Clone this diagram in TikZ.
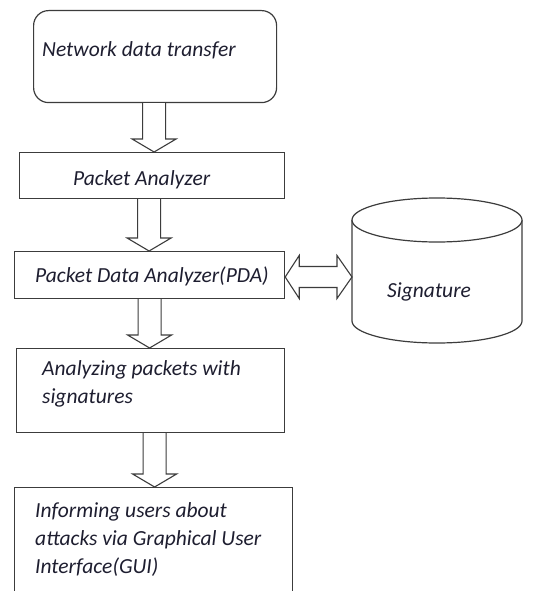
\documentclass[tikz,border=0pt]{standalone}
\usepackage{fontspec}
\setmainfont{Carlito}
\usetikzlibrary{calc}
\definecolor{ln}{HTML}{3C3C3C}
\definecolor{tx}{HTML}{1E1E30}
\newcommand\downblk[3]{%
  \draw[blk] let \p1=(#1.south), \p2=(#2.north) in
    (\x1+#3-11.5pt,\y1) -- (\x1+#3-11.5pt,\y2+13pt) -- (\x1+#3-22pt,\y2+13pt)
    -- (\x1+#3,\y2) -- (\x1+#3+22pt,\y2+13pt) -- (\x1+#3+11.5pt,\y2+13pt)
    -- (\x1+#3+11.5pt,\y1);}
\begin{document}
\begin{tikzpicture}[x=1pt,y=-1pt,
  box/.style={draw=ln, line width=1.2pt, fill=white, anchor=north west, inner sep=0pt},
  txt/.style={font=\fontsize{21.5}{28}\selectfont\itshape, text=tx, inner sep=0pt, anchor=base west, align=left},
  blk/.style={draw=ln, line width=1.1pt, fill=white, line join=miter}]
\useasboundingbox (0,0) rectangle (538,591);
\clip (0,0) rectangle (538,591);
\fill[white] (0,0) rectangle (538,591);

\node[box, rounded corners=15pt, minimum width=243pt, minimum height=92pt] (n1) at (33,10) {};
\node[box, minimum width=265pt, minimum height=46pt] (n2) at (19,152) {};
\node[box, minimum width=270pt, minimum height=47pt] (n3) at (14,251) {};
\node[box, minimum width=268pt, minimum height=84pt] (n4) at (16,348) {};
\node[box, minimum width=278pt, minimum height=112pt] (n5) at (14,487) {};

\node[txt] (t1) at (42,57) {Network data transfer};
\node[txt] (t2) at (73,185) {Packet Analyzer};
\node[txt] (t3) at (35,282) {Packet Data Analyzer(PDA)};
\node[txt] (t4) at (42,403) {Analyzing packets with\\signatures};
\node[txt] (t5) at (35,573) {Informing users about\\attacks via Graphical User\\Interface(GUI)};

% cylinder
\draw[draw=ln, line width=1.2pt, fill=white] (352,220) -- (352,321)
  arc[start angle=180, end angle=0, x radius=85, y radius=22] -- (522,220);
\draw[draw=ln, line width=1.2pt, fill=white] (437,220) ellipse [x radius=85, y radius=22];
\node[txt] (sig) at (387,297) {Signature};
\coordinate (cylw) at (352,277);

\downblk{n1}{n2}{-1pt}
\downblk{n2}{n3}{-3pt}
\downblk{n3}{n4}{0pt}
\downblk{n4}{n5}{4pt}

\draw[blk] let \p1=(n3.east), \p2=(cylw) in
  (\x1,\y2) -- (\x1+14pt,\y2+21.5pt) -- (\x1+14pt,\y2+10.5pt) -- (\x2-15pt,\y2+10.5pt)
  -- (\x2-15pt,\y2+21.5pt) -- (\x2,\y2) -- (\x2-15pt,\y2-21.5pt) -- (\x2-15pt,\y2-10.5pt)
  -- (\x1+14pt,\y2-10.5pt) -- (\x1+14pt,\y2-21.5pt) -- cycle;
\end{tikzpicture}
\end{document}
